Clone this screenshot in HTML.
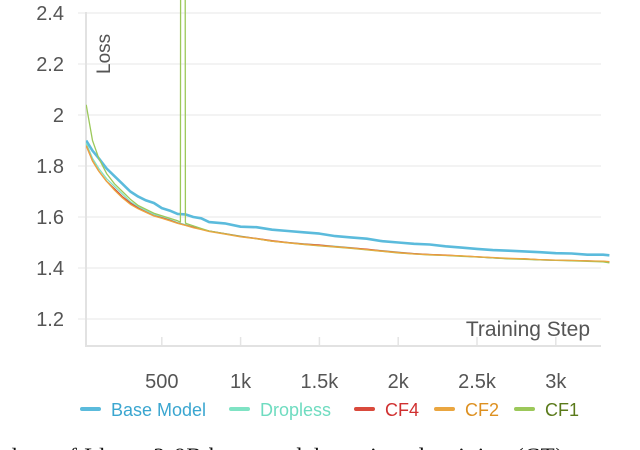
<!DOCTYPE html>
<html><head><meta charset="utf-8"><style>
html,body{margin:0;padding:0;background:#fff;overflow:hidden}
svg{display:block}
text{font-family:"Liberation Sans",sans-serif}
text.cap{font-family:"Liberation Serif",serif}
</style></head><body>
<svg id="chart" width="640" height="450" viewBox="0 0 640 450" xmlns="http://www.w3.org/2000/svg">
<g id="grid"></g>
<g id="axes"></g>
<g id="series"></g>
<text transform="translate(110,74) rotate(-90)" font-size="19" fill="#555">Loss</text>
<text x="590" y="336" text-anchor="end" font-size="21" fill="#555">Training Step</text>
<g id="legend"></g>
<text class="cap" x="-6" y="464" font-size="23" textLength="652" lengthAdjust="spacing" fill="#111">e loss of Llama 3-8B base model continued training (CT) vs uncu</text>
</svg>
<script>
const yTicks=[1.2,1.4,1.6,1.8,2,2.2,2.4];
const yTickLabels=["1.2","1.4","1.6","1.8","2","2.2","2.4"];
const xTicks=[500,1000,1500,2000,2500,3000];
const xTickLabels=["500","1k","1.5k","2k","2.5k","3k"];
const steps=[20,60,100,150,200,250,300,350,400,450,500,550,600,650,700,750,800,900,1000,1100,1200,1300,1400,1500,1600,1700,1800,1900,2000,2100,2200,2300,2400,2500,2600,2700,2800,2900,3000,3100,3200,3300,3340];
const baseModel=[1.90,1.86,1.83,1.79,1.76,1.73,1.70,1.68,1.665,1.655,1.635,1.625,1.612,1.61,1.60,1.595,1.58,1.575,1.562,1.56,1.55,1.545,1.54,1.535,1.525,1.52,1.515,1.505,1.50,1.495,1.492,1.485,1.48,1.475,1.47,1.468,1.465,1.462,1.458,1.457,1.452,1.452,1.45];
const dropless=[1.89,1.83,1.79,1.75,1.72,1.69,1.66,1.64,1.625,1.61,1.60,1.59,1.578,1.57,1.56,1.552,1.545,1.535,1.525,1.515,1.505,1.5,1.495,1.49,1.485,1.48,1.473,1.468,1.462,1.456,1.453,1.45,1.447,1.443,1.44,1.437,1.435,1.432,1.43,1.43,1.428,1.425,1.424];
const cf4=[1.88,1.82,1.78,1.74,1.71,1.68,1.655,1.635,1.62,1.605,1.597,1.587,1.576,1.568,1.56,1.552,1.545,1.535,1.524,1.516,1.507,1.5,1.494,1.49,1.484,1.479,1.474,1.467,1.461,1.456,1.453,1.451,1.447,1.444,1.44,1.437,1.436,1.432,1.431,1.429,1.428,1.426,1.424];
const cf2=[1.88,1.82,1.78,1.74,1.705,1.675,1.65,1.632,1.618,1.604,1.595,1.585,1.575,1.567,1.558,1.551,1.543,1.533,1.522,1.515,1.505,1.499,1.493,1.488,1.483,1.478,1.472,1.466,1.46,1.455,1.452,1.45,1.448,1.444,1.441,1.438,1.436,1.433,1.431,1.43,1.428,1.427,1.425];
const cf1Steps=[20,60,100,150,200,250,300,350,400,450,500,550,600,618,620,648,650,652,700,750,800,900,1000,1100,1200,1300,1400,1500,1600,1700,1800,1900,2000,2100,2200,2300,2400,2500,2600,2700,2800,2900,3000,3100,3200,3300,3340];
const cf1=[2.04,1.90,1.83,1.77,1.73,1.70,1.67,1.645,1.63,1.615,1.605,1.595,1.585,1.58,3.0,3.0,1.58,1.575,1.565,1.555,1.545,1.534,1.523,1.515,1.505,1.499,1.492,1.487,1.482,1.477,1.471,1.465,1.459,1.455,1.451,1.449,1.446,1.443,1.44,1.436,1.434,1.432,1.43,1.428,1.426,1.424,1.42];
const seriesNames=["Base Model","Dropless","CF4","CF2","CF1"];
const NS="http://www.w3.org/2000/svg";
const X=s=>83+s*0.1576;
const Y=v=>13+(2.4-v)*255;
function mk(tag,attrs,parent){const e=document.createElementNS(NS,tag);for(const k in attrs)e.setAttribute(k,attrs[k]);parent.appendChild(e);return e;}
const grid=document.getElementById('grid'),axes=document.getElementById('axes'),ser=document.getElementById('series'),leg=document.getElementById('legend');
yTicks.forEach((t,i)=>{
 const l=mk('line',{x1:78,x2:601,y1:Y(t),y2:Y(t),stroke:'#ececec','stroke-width':1.2},grid);
 
 
 const tx=mk('text',{x:64,y:Y(t)+7,'text-anchor':'end','font-size':20,fill:'#555'},axes);
 tx.textContent=yTickLabels[i];
 
 
});
xTicks.forEach((t,i)=>{
 const l=mk('line',{x1:X(t),x2:X(t),y1:337,y2:346,stroke:'#e4e4e4','stroke-width':1.5},grid);
 
 
 const tx=mk('text',{x:X(t),y:388,'text-anchor':'middle','font-size':20,fill:'#555'},axes);
 tx.textContent=xTickLabels[i];
 
 
});
const ya=mk('line',{x1:86,x2:86,y1:12,y2:347,stroke:'#e2e2e2','stroke-width':2},axes);


const xa=mk('line',{x1:85,x2:601,y1:346,y2:346,stroke:'#e2e2e2','stroke-width':2},axes);


const defs=mk('defs',{},ser);const cp=mk('clipPath',{id:'clip'},defs);mk('rect',{x:86,y:0,width:540,height:346},cp);
function line(xs,vs,color,w,name){
 const p=mk('path',{d:xs.map((s,i)=>(i?'L':'M')+X(s).toFixed(1)+','+Y(vs[i]).toFixed(1)).join(''),fill:'none',stroke:color,'stroke-width':w,'clip-path':'url(#clip)','stroke-linejoin':'round'},ser);
 
 
}
line(steps,baseModel,'#5bbbdc',2.6,'base-model-line');
line(steps,dropless,'#7fe3c4',1.3,'dropless-line');
line(steps,cf4,'#d94a3c',1.3,'cf4-line');
line(cf1Steps,cf1,'#9cc85a',1.3,'cf1-line');
line(steps,cf2,'#eaa640',1.3,'cf2-line');
const legColors=['#5bbbdc','#7fe3c4','#d94a3c','#eaa640','#9cc85a'];
const legText=['#3aa6d0','#6fdcc0','#d03030','#dd9020','#5a7a1a'];
const legX=[82,231,356,436,516];
seriesNames.forEach((n,i)=>{
 const g=mk('g',{},leg);
 
 
 mk('line',{x1:legX[i],x2:legX[i]+17,y1:409,y2:409,stroke:legColors[i],'stroke-width':4,'stroke-linecap':'round'},g);
 const t=mk('text',{x:legX[i]+29,y:416,'font-size':18,fill:legText[i]},g);t.textContent=n;
});
</script>
</body></html>
